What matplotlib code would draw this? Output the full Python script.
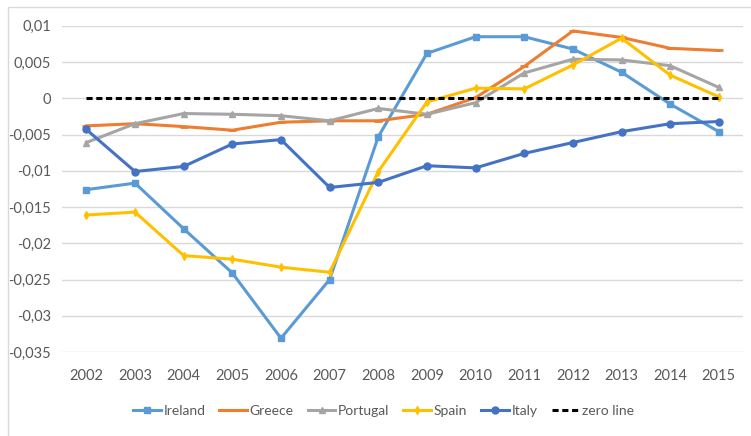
import matplotlib
matplotlib.use("Agg")
import matplotlib.pyplot as plt
import numpy as np
from matplotlib.patches import Rectangle
from matplotlib.ticker import FuncFormatter

plt.rcParams["font.family"] = ["Lato", "DejaVu Sans"]

years = [str(y) for y in range(2002, 2016)]
ireland = [-0.0126, -0.0117, -0.0180, -0.0241, -0.0331, -0.0250, -0.0053,
           0.0062, 0.0085, 0.0085, 0.0068, 0.0036, -0.0008, -0.0046]
greece = [-0.0038, -0.0035, -0.0039, -0.0044, -0.0033, -0.0031, -0.0031,
          -0.0022, 0.0001, 0.0044, 0.0093, 0.0084, 0.0069, 0.0066]
portugal = [-0.0061, -0.0035, -0.0021, -0.0022, -0.0024, -0.0031, -0.0014,
            -0.0022, -0.0006, 0.0035, 0.0054, 0.0053, 0.0045, 0.0015]
spain = [-0.0161, -0.0157, -0.0217, -0.0222, -0.0233, -0.0240, -0.0101,
         -0.0005, 0.0014, 0.0013, 0.0046, 0.0083, 0.0032, 0.0002]
italy = [-0.0043, -0.0101, -0.0094, -0.0063, -0.0057, -0.0123, -0.0116,
         -0.0093, -0.0096, -0.0076, -0.0061, -0.0046, -0.0035, -0.0032]
zero_line = [0.0] * len(years)

fig = plt.figure(figsize=(7.51, 4.36), dpi=100)
ax = fig.add_axes([0.0826, 0.1927, 0.907, 0.748])

# light chart-area border like the Excel original
fig.patches.append(Rectangle((8 / 751, -0.05), 1.0, 1 - 7 / 436 + 0.05,
                             transform=fig.transFigure, fill=False,
                             edgecolor="#D9D9D9", linewidth=1.0))

x = np.arange(len(years))
lw = 2.2
ax.plot(x, ireland, color="#5B9BD5", lw=lw, marker="s", ms=5, label="Ireland")
ax.plot(x, greece, color="#ED7D31", lw=lw, marker="_", ms=6, mew=2, label="Greece")
ax.plot(x, portugal, color="#A5A5A5", lw=lw, marker="^", ms=5, label="Portugal")
ax.plot(x, spain, color="#FFC000", lw=lw, marker="d", ms=4, label="Spain")
ax.plot(x, italy, color="#4472C4", lw=lw, marker="o", ms=5, label="Italy")
ax.plot(x, zero_line, color="black", lw=2.2, ls=(0, (2, 1.2)), label="zero line")

ax.set_xlim(-0.5, len(years) - 0.5)
ax.set_ylim(-0.035, 0.01)
ax.set_xticks(x)
ax.set_xticklabels(years)
ax.set_yticks(np.round(np.arange(-0.035, 0.0101, 0.005), 3))
ax.yaxis.set_major_formatter(FuncFormatter(lambda v, p: f"{v:g}".replace(".", ",")))
ax.tick_params(length=0, labelsize=10.5, labelcolor="#595959")
ax.tick_params(axis="x", pad=12)
ax.tick_params(axis="y", pad=8)
for s in ax.spines.values():
    s.set_visible(False)
ax.grid(axis="y", color="#D9D9D9", lw=1)
ax.set_axisbelow(True)

ax.legend(loc="upper center", bbox_to_anchor=(0.472, -0.125), ncol=6, frameon=False,
          fontsize=10, labelcolor="#595959", handlelength=2.0, handletextpad=0.2,
          columnspacing=1.0)

fig.savefig("out.png", dpi=100)
